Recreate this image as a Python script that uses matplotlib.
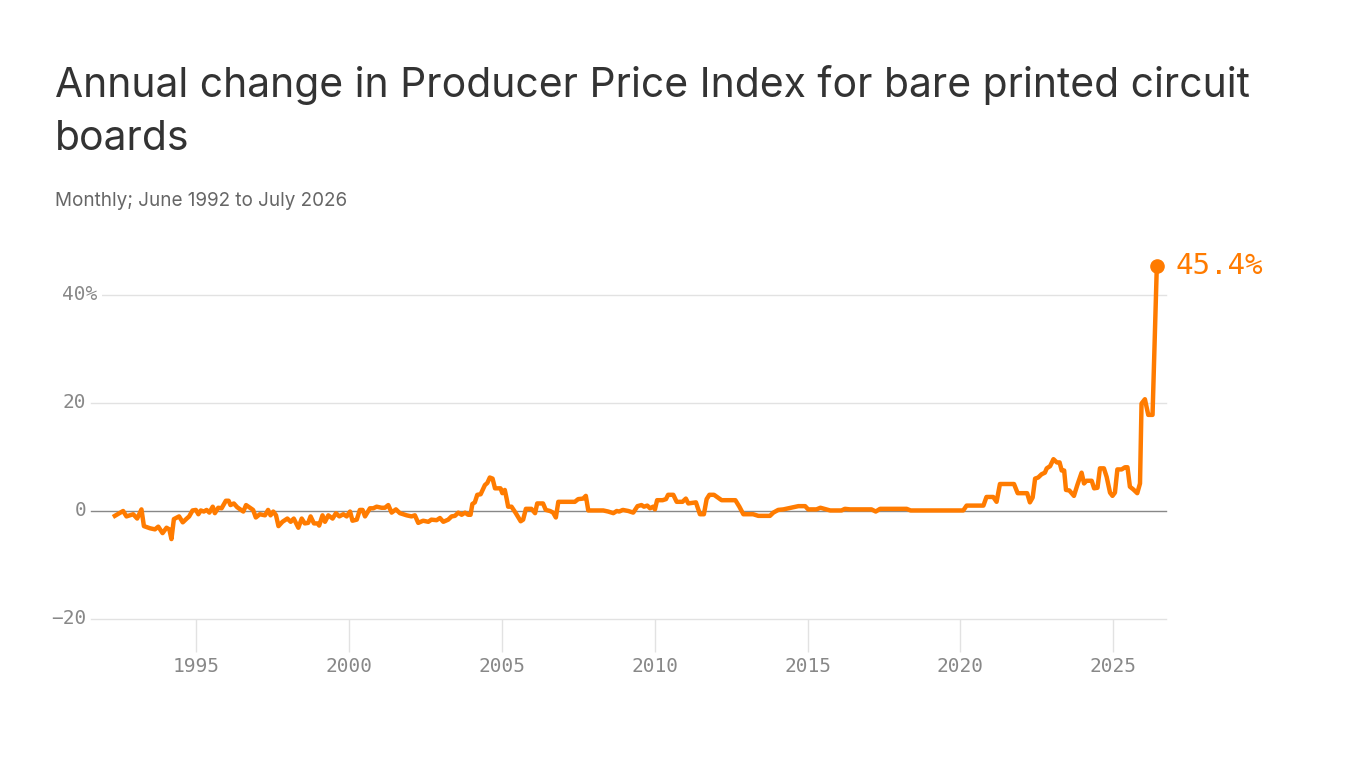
import matplotlib.pyplot as plt

# readings: (decimal year, annual % change)
pts_1990s = [
    (1992.35, -0.9), (1992.62, 0.0), (1992.73, -1.0), (1992.95, -0.6), (1993.08, -1.4),
    (1993.22, 0.3), (1993.30, -2.8), (1993.50, -3.2), (1993.66, -3.4), (1993.77, -2.9),
    (1993.91, -4.1), (1994.04, -3.1), (1994.13, -3.4), (1994.20, -5.2), (1994.28, -1.5),
    (1994.45, -1.0), (1994.57, -2.1), (1994.70, -1.4), (1994.78, -1.0), (1994.89, 0.1),
    (1995.00, 0.2), (1995.08, -0.6), (1995.16, 0.1), (1995.26, -0.1), (1995.35, 0.2),
    (1995.44, -0.3), (1995.55, 0.8), (1995.62, -0.4), (1995.73, 0.6), (1995.84, 0.5),
    (1995.98, 1.9), (1996.07, 1.9), (1996.13, 1.1), (1996.24, 1.4), (1996.35, 0.7),
    (1996.55, -0.1), (1996.64, 1.1), (1996.79, 0.5), (1996.87, 0.2), (1996.96, -1.2),
    (1997.09, -0.6), (1997.26, -0.8), (1997.36, 0.2), (1997.44, -0.8), (1997.53, -0.1),
    (1997.62, -0.8), (1997.70, -2.8), (1997.83, -2.0), (1997.99, -1.4), (1998.10, -2.0),
    (1998.20, -1.4), (1998.35, -3.1), (1998.46, -1.4), (1998.56, -2.3), (1998.67, -2.2),
    (1998.75, -1.0), (1998.86, -2.3), (1998.98, -2.3), (1999.03, -2.7), (1999.14, -0.8),
    (1999.22, -2.0), (1999.33, -0.8), (1999.47, -1.4), (1999.58, -0.4), (1999.69, -1.0),
    (1999.82, -0.6), (1999.93, -1.0),
]
pts_2000s = [
    (2000.04, -0.1), (2000.12, -1.8), (2000.26, -1.6), (2000.36, 0.2), (2000.45, 0.2),
    (2000.53, -1.0), (2000.69, 0.5), (2000.80, 0.5), (2000.91, 0.8), (2001.07, 0.6),
    (2001.18, 0.6), (2001.29, 1.1), (2001.40, -0.3), (2001.54, 0.3), (2001.67, -0.4),
    (2001.89, -0.8), (2002.05, -1.0), (2002.16, -0.8), (2002.27, -2.2), (2002.43, -1.8),
    (2002.60, -2.0), (2002.70, -1.6), (2002.87, -1.7), (2002.98, -1.3), (2003.09, -2.0),
    (2003.25, -1.6), (2003.36, -1.0), (2003.47, -0.9), (2003.58, -0.3), (2003.69, -0.7),
    (2003.80, -0.3), (2003.90, -0.7), (2003.98, -0.7), (2004.04, 1.3), (2004.12, 1.6),
    (2004.20, 3.0), (2004.31, 3.1), (2004.45, 4.8), (2004.53, 5.2), (2004.61, 6.2),
    (2004.70, 6.0), (2004.78, 4.2), (2004.96, 4.2), (2005.02, 3.3), (2005.10, 3.9),
    (2005.16, 2.3), (2005.21, 0.8), (2005.32, 0.8), (2005.46, -0.4), (2005.62, -1.9),
    (2005.70, -1.6), (2005.79, 0.4), (2005.97, 0.4), (2006.09, -0.4), (2006.16, 1.4),
    (2006.35, 1.4), (2006.44, 0.2), (2006.58, 0.0), (2006.68, -0.3), (2006.77, -1.2),
    (2006.85, 1.7), (2007.39, 1.7), (2007.50, 2.2), (2007.66, 2.3), (2007.75, 2.8),
    (2007.83, 0.1), (2008.32, 0.1), (2008.48, -0.1), (2008.65, -0.4), (2008.76, 0.0),
    (2008.84, -0.1), (2008.96, 0.2), (2009.14, 0.0), (2009.30, -0.3), (2009.44, 0.9),
    (2009.57, 1.1), (2009.65, 0.8), (2009.76, 1.0), (2009.85, 0.5), (2009.95, 0.8),
]
pts_2010s = [
    (2010.01, 0.3), (2010.08, 2.0), (2010.26, 2.0), (2010.37, 2.2), (2010.44, 3.0),
    (2010.61, 3.0), (2010.72, 1.7), (2010.91, 1.7), (2011.02, 2.3), (2011.10, 1.4),
    (2011.35, 1.6), (2011.48, -0.6), (2011.61, -0.6), (2011.70, 2.2), (2011.79, 3.0),
    (2011.94, 3.0), (2012.19, 2.0), (2012.64, 2.0), (2012.77, 0.8), (2012.90, -0.6),
    (2013.22, -0.6), (2013.39, -0.9), (2013.77, -0.9), (2013.88, -0.3), (2014.04, 0.2),
    (2014.21, 0.3), (2014.37, 0.5), (2014.53, 0.7), (2014.70, 0.9), (2014.92, 0.9),
    (2015.02, 0.3), (2015.29, 0.3), (2015.42, 0.6), (2015.67, 0.2), (2015.74, 0.1),
    (2016.11, 0.1), (2016.22, 0.4), (2016.39, 0.3), (2017.09, 0.3), (2017.23, -0.1),
    (2017.37, 0.4), (2018.24, 0.4), (2018.37, 0.1), (2019.99, 0.1),
]
pts_2020s = [
    (2020.09, 0.1), (2020.20, 1.0), (2020.75, 1.0), (2020.85, 2.6), (2021.07, 2.6),
    (2021.18, 1.7), (2021.29, 5.0), (2021.75, 5.0), (2021.87, 3.3), (2022.18, 3.3),
    (2022.27, 1.6), (2022.36, 2.5), (2022.44, 6.0), (2022.54, 6.2), (2022.65, 6.8),
    (2022.76, 7.1), (2022.82, 7.9), (2022.93, 8.3), (2023.04, 9.6), (2023.15, 9.0),
    (2023.24, 9.0), (2023.31, 7.5), (2023.39, 7.5), (2023.45, 3.9), (2023.56, 3.8),
    (2023.71, 2.8), (2023.82, 4.8), (2023.96, 7.1), (2024.04, 5.1), (2024.12, 5.6),
    (2024.29, 5.6), (2024.37, 4.2), (2024.48, 4.3), (2024.56, 7.9), (2024.69, 7.9),
    (2024.78, 6.3), (2024.89, 3.4), (2024.97, 2.8), (2025.05, 3.4), (2025.13, 7.7),
    (2025.27, 7.7), (2025.38, 8.1), (2025.46, 8.1), (2025.54, 4.5), (2025.65, 4.0),
    (2025.78, 3.3), (2025.87, 5.1), (2025.92, 19.9), (2026.03, 20.7), (2026.14, 17.8),
    (2026.28, 17.8), (2026.42, 45.4),
]

y_ticks = [-20, 0, 20, 40]
y_labels = ['\u221220', '0', '20', '40%']
x_ticks = [1995, 2000, 2005, 2010, 2015, 2020, 2025]

title_lines = ['Annual change in Producer Price Index for bare printed circuit', 'boards']
subtitle = 'Monthly; June 1992 to July 2026'

orange = '#ff7b00'
grey = '#888888'
light = '#e2e2e2'

pts = pts_1990s + pts_2000s + pts_2010s + pts_2020s
years = [p[0] for p in pts]
change = [p[1] for p in pts]

plt.rcParams['font.family'] = 'DejaVu Sans Mono'
tick_size = 14

fig = plt.figure(figsize=(13.66, 7.68), dpi=100)
ax = fig.add_axes([91 / 1366, 149 / 768, 1075 / 1366, 356.4 / 768])
ax.set_xlim(1991.57, 2026.72)
ax.set_ylim(-20, 46)

# gridlines, zero line darker
for v in y_ticks:
    ax.axhline(v, color=grey if v == 0 else light, lw=1, zorder=1, clip_on=False)

# y labels sit inside, digits right-aligned, the % hangs past them
char_w = 0.602 * tick_size * 100 / 72
for v, lab in zip(y_ticks, y_labels):
    shift = -5 + char_w * lab.endswith('%')
    ax.annotate(lab, xy=(0, v), xycoords=ax.get_yaxis_transform(),
                xytext=(shift, 0), textcoords='offset pixels',
                ha='right', va='center', fontsize=tick_size, color=grey,
                bbox=dict(boxstyle='square,pad=0.2', fc='white', ec='none'))

ax.plot(years, change, color=orange, lw=3.2, solid_joinstyle='round', clip_on=False, zorder=3)
ax.plot(years[-1], change[-1], 'o', ms=9.5, color=orange, clip_on=False, zorder=4)
ax.annotate(f'{change[-1]:.1f}%', xy=(years[-1], change[-1]), xytext=(19, 0),
            textcoords='offset pixels', ha='left', va='center',
            fontsize=21, color=orange, annotation_clip=False)

ax.set_xticks(x_ticks)
ax.set_yticks([])
ax.tick_params(axis='x', length=24, width=1, color=light, pad=3,
               labelsize=tick_size, labelcolor=grey)
for s in ax.spines.values():
    s.set_visible(False)

fig.text(55 / 1366, 1 - 97 / 768, title_lines[0], family='Inter', fontsize=29.4,
         color='#333333', va='baseline')
fig.text(55 / 1366, 1 - 150 / 768, title_lines[1], family='Inter', fontsize=29.4,
         color='#333333', va='baseline')
fig.text(55 / 1366, 1 - 206.5 / 768, subtitle, family='Inter', fontsize=13.6,
         color='#666666', va='baseline')

fig.savefig('out.png', dpi=100)
